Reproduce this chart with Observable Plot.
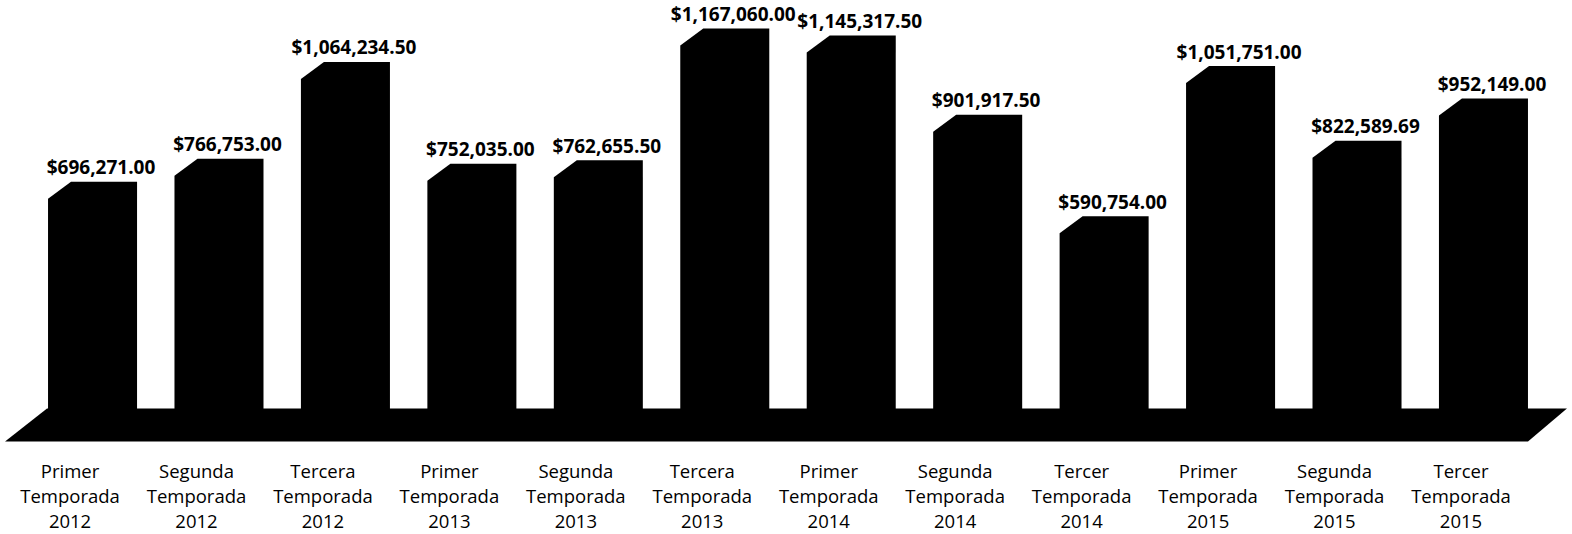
<!DOCTYPE html>
<html>
<head>
<meta charset="utf-8">
<script src="https://cdn.jsdelivr.net/npm/d3@7"></script>
<script src="https://cdn.jsdelivr.net/npm/@observablehq/plot@0.6"></script>
<style>
  html, body { margin: 0; padding: 0; background: #fff; }
  #chart svg { display: block; }
</style>
</head>
<body>
<div id="chart"></div>
<script>
// ---- data ----
const categories = [
  "Primer\nTemporada\n2012",
  "Segunda\nTemporada\n2012",
  "Tercera\nTemporada\n2012",
  "Primer\nTemporada\n2013",
  "Segunda\nTemporada\n2013",
  "Tercera\nTemporada\n2013",
  "Primer\nTemporada\n2014",
  "Segunda\nTemporada\n2014",
  "Tercer\nTemporada\n2014",
  "Primer\nTemporada\n2015",
  "Segunda\nTemporada\n2015",
  "Tercer\nTemporada\n2015"
];
const amounts = [
  696271.00, 766753.00, 1064234.50,
  752035.00, 762655.50, 1167060.00,
  1145317.50, 901917.50, 590754.00,
  1051751.00, 822589.69, 952149.00
];
const valueLabels = [
  "$696,271.00", "$766,753.00", "$1,064,234.50",
  "$752,035.00", "$762,655.50", "$1,167,060.00",
  "$1,145,317.50", "$901,917.50", "$590,754.00",
  "$1,051,751.00", "$822,589.69", "$952,149.00"
];

const data = categories.map((c, i) => ({cat: c, value: amounts[i], label: valueLabels[i]}));

// 3D-ish bars + floor drawn through the plot's scales
const DEPTH_X = 23, DEPTH_Y = 17;
function bars3d(index, scales) {
  const x = scales.x, y = scales.y;
  const bw = x.bandwidth ? x.bandwidth() : 89;
  const y0 = y(0);
  const g = d3.create("svg:g");
  const first = x(categories[0]);
  const last = x(categories[categories.length - 1]) + bw;
  // floor (parallelogram)
  const fTL = first - 1, fTR = last + 39, fdy = 33;
  g.append("path")
    .attr("d", `M${fTL},${y0}L${fTR},${y0}L${fTR - 39},${y0 + fdy}L${fTL - 42},${y0 + fdy}Z`)
    .attr("fill", "#000");
  // bars
  for (const d of data) {
    const x0 = x(d.cat), x1 = x0 + bw, top = y(d.value);
    g.append("path")
      .attr("d", `M${x0},${y0 + 1}V${top + DEPTH_Y}L${x0 + DEPTH_X},${top}H${x1}V${y0 + 1}Z`)
      .attr("fill", "#000");
  }
  return g.node();
}

const plot = Plot.plot({
  width: 1572,
  height: 534,
  marginLeft: 10.6,
  marginRight: 6.6,
  marginTop: 0,
  marginBottom: 0,
  style: {background: "#fff", fontFamily: "'Open Sans', sans-serif", color: "#000"},
  x: {type: "band", domain: categories, padding: 0.296, round: false, axis: null},
  y: {domain: [0, 1167060], range: [408.5, 28.5], axis: null},
  marks: [
    bars3d,
    Plot.text(data, {
      x: "cat", y: "value", text: "label",
      dx: 8, dy: -8, lineAnchor: "bottom",
      fontSize: 19, fontWeight: 700, fill: "#000"
    }),
    Plot.text(data, {
      x: "cat", text: "cat", frameAnchor: "top",
      dx: -23, dy: 460, lineAnchor: "top", lineHeight: 1.35,
      fontSize: 18.5, fill: "#000"
    })
  ]
});
document.getElementById("chart").appendChild(plot);
</script>
</body>
</html>
